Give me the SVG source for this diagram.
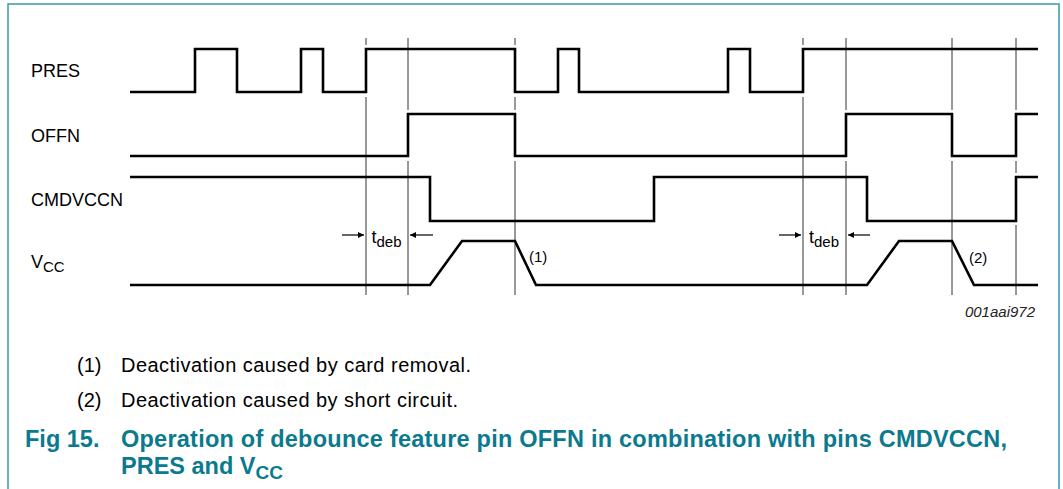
<svg xmlns="http://www.w3.org/2000/svg" width="1063" height="489" viewBox="0 0 1063 489">
<style>
.frame{fill:none;stroke:#3a96ad;stroke-width:1.5}
.sig{fill:none;stroke:#000;stroke-width:2.6;stroke-linejoin:miter;stroke-linecap:butt}
.vl{fill:none;stroke:#333;stroke-width:1}
.arr{fill:none;stroke:#000;stroke-width:1.2}
.lbl{font-family:"Liberation Sans",Arial,sans-serif;font-size:18px;fill:#000}
.sub{font-size:15px}
.note{font-family:"Liberation Sans",Arial,sans-serif;font-size:20px;fill:#000}
.small{font-family:"Liberation Sans",Arial,sans-serif;font-size:15px;fill:#000}
.code{font-family:"Liberation Sans",Arial,sans-serif;font-size:15px;font-style:italic;fill:#222}
.cap{font-family:"Liberation Sans",Arial,sans-serif;font-size:23.5px;font-weight:bold;fill:#0b7a8e}
</style>
<defs>
<marker id="ah" viewBox="0 0 10 10" refX="10" refY="5" markerWidth="8" markerHeight="6" markerUnits="userSpaceOnUse" orient="auto">
<path d="M0,0 L10,5 L0,10 Z" fill="#000"/>
</marker>
</defs>
<path class="frame" d="M8,489 V4 H1059 V489"/>

<g id="labels">
<text class="lbl" x="31" y="77">PRES</text>
<text class="lbl" x="31" y="141.5">OFFN</text>
<text class="lbl" x="31" y="205.5">CMDVCCN</text>
<text class="lbl" x="31" y="268">V<tspan class="sub" dy="4">CC</tspan></text>
</g>

<g id="connectors">
<g id="marker-lines">
<path class="vl" d="M366,38 V45 M366,97 V295"/>
<path class="vl" d="M408,38 V110 M408,161 V295"/>
<path class="vl" d="M515,38 V45 M515,97 V110 M515,161 V295"/>
<path class="vl" d="M803,38 V45 M803,97 V295"/>
<path class="vl" d="M846,38 V110 M846,161 V295"/>
<path class="vl" d="M952,38 V110 M952,161 V295"/>
<path class="vl" d="M1016,38 V110 M1016,161 V173 M1016,225 V295"/>
</g>
<path id="PRES" class="sig" d="M130,92 H195 V49 H237 V92 H301 V49 H323 V92 H366 V49 H515 V92 H558 V49 H579 V92 H728 V49 H750 V92 H803 V49 H1038"/>
<path id="OFFN" class="sig" d="M130,156 H408 V114 H515 V156 H846 V114 H952 V156 H1016 V114 H1038"/>
<path id="CMDVCCN" class="sig" d="M130,177 H430 V221 H654 V177 H867 V221 H1016 V177 H1038"/>
<path id="VCC" class="sig" d="M130,285 H430 L462,241 H515 L536,285 H867 L899,241 H952 L974,285 H1038"/>
<g id="tdeb-arrows">
<line class="arr" x1="342" y1="235" x2="364" y2="235" marker-end="url(#ah)"/>
<line class="arr" x1="433" y1="235" x2="410" y2="235" marker-end="url(#ah)"/>
<line class="arr" x1="779" y1="235" x2="801" y2="235" marker-end="url(#ah)"/>
<line class="arr" x1="870" y1="235" x2="848" y2="235" marker-end="url(#ah)"/>
</g>
</g>

<g id="annotations">
<text class="lbl" x="371.5" y="243">t<tspan class="sub" font-size="14" dy="4">deb</tspan></text>
<text class="lbl" x="809" y="243">t<tspan class="sub" font-size="14" dy="4">deb</tspan></text>
<text class="small" x="529" y="262">(1)</text>
<text class="small" x="969" y="263">(2)</text>
<text class="code" x="1035" y="317" text-anchor="end">001aai972</text>
</g>

<g id="notes">
<text class="note" x="77" y="372">(1)</text>
<text class="note" x="121" y="372" textLength="350" lengthAdjust="spacing">Deactivation caused by card removal.</text>
<text class="note" x="77" y="407">(2)</text>
<text class="note" x="121" y="407" textLength="337" lengthAdjust="spacing">Deactivation caused by short circuit.</text>
</g>

<g id="caption">
<text class="cap" x="25" y="447">Fig 15.</text>
<text class="cap" x="121" y="447" textLength="886" lengthAdjust="spacing">Operation of debounce feature pin OFFN in combination with pins CMDVCCN,</text>
<text class="cap" x="121" y="474">PRES and V<tspan font-size="19" dy="5">CC</tspan></text>
</g>
</svg>
